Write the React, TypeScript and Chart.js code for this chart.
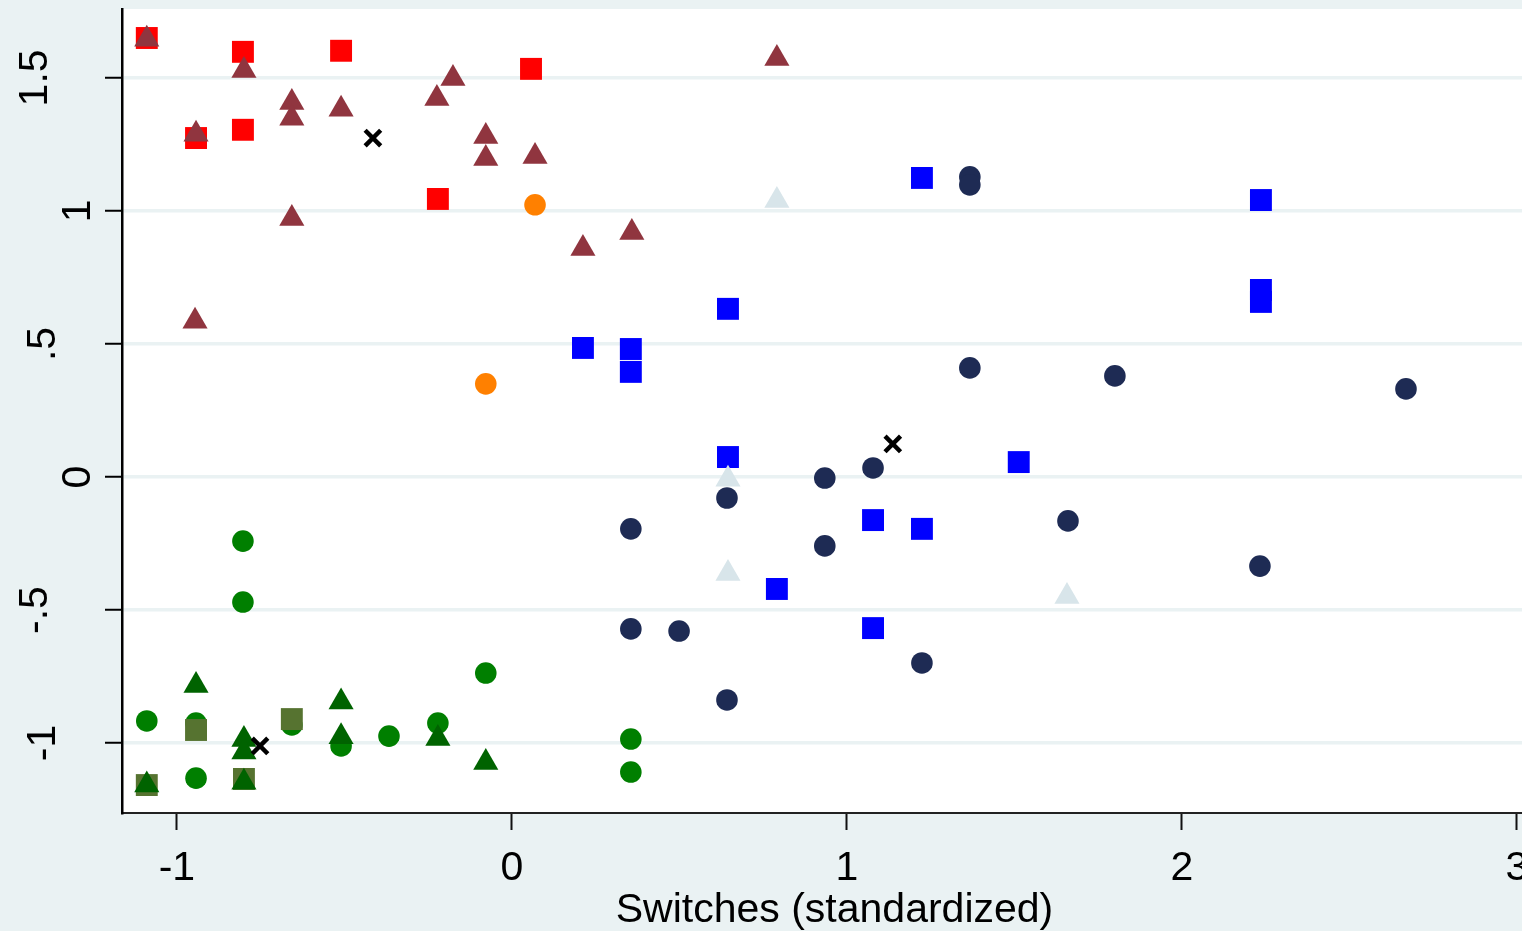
import React, { useEffect, useRef } from "react";
import { Chart, registerables } from "chart.js";

Chart.register(...registerables);

// ---- axis ticks / labels ----
const xTicks = [-1, 0, 1, 2, 3];
const xTickLabels = ["-1", "0", "1", "2", "3"];
const yTicks = [-1, -0.5, 0, 0.5, 1, 1.5];
const yTickLabels = ["-1", "-.5", "0", ".5", "1", "1.5"];
const xTitle = "Switches (standardized)";

// ---- series ----
const redSquareX = [-1.09, -0.943, -0.803, -0.803, -0.51, -0.221, 0.057];
const redSquareY = [1.65, 1.274, 1.598, 1.305, 1.602, 1.045, 1.534];

const maroonTriX = [-1.09, -0.943, -0.8, -0.657, -0.657, -0.51, -0.224, -0.176, -0.078, -0.078, 0.069, 0.791, -0.657, -0.946, 0.212, 0.358];
const maroonTriY = [1.645, 1.288, 1.528, 1.408, 1.348, 1.382, 1.423, 1.498, 1.28, 1.197, 1.205, 1.573, 0.972, 0.585, 0.859, 0.919];

const blueSquareX = [1.224, 2.236, 2.236, 2.236, 0.645, 0.212, 0.355, 0.355, 0.645, 1.513, 1.078, 1.224, 0.791, 1.078];
const blueSquareY = [1.124, 1.041, 0.703, 0.658, 0.632, 0.485, 0.481, 0.395, 0.075, 0.056, -0.162, -0.195, -0.421, -0.568];

const navyCircleX = [1.367, 1.367, 1.367, 1.8, 2.669, 0.934, 1.078, 0.642, 0.355, 0.934, 1.66, 2.233, 0.355, 0.499, 1.224, 0.642];
const navyCircleY = [1.128, 1.098, 0.41, 0.38, 0.331, -0.004, 0.034, -0.079, -0.195, -0.259, -0.165, -0.335, -0.571, -0.579, -0.699, -0.838];

const orangeCircleX = [-0.078, 0.069];
const orangeCircleY = [0.35, 1.023];

const lightTriX = [0.791, 0.645, 0.645, 1.657];
const lightTriY = [1.039, -0.009, -0.363, -0.449];

const blackCrossX = [-0.415, 1.137, -0.752];
const blackCrossY = [1.274, 0.124, -1.011];

const greenCircleX = [-1.09, -0.943, -0.657, -0.51, -0.367, -0.221, -0.078, 0.355, 0.355, -0.943, -0.803, -0.803];
const greenCircleY = [-0.917, -0.925, -0.932, -1.011, -0.974, -0.925, -0.737, -0.985, -1.109, -1.132, -0.241, -0.47];

const dkGreenTriX = [-0.943, -0.8, -0.8, -0.51, -0.51, -0.221, -0.078, -1.09, -0.8];
const dkGreenTriY = [-0.784, -0.987, -1.034, -0.846, -0.976, -0.983, -1.073, -1.158, -1.147];

const oliveSquareX = [-0.943, -0.657, -1.09, -0.8];
const oliveSquareY = [-0.951, -0.91, -1.158, -1.135];

const zip = (xs: number[], ys: number[]) => xs.map((x, i) => ({ x, y: ys[i] }));

const BG = "#EAF2F3";
const FONT = "41px 'Liberation Sans', Arial, Helvetica, sans-serif";

// baseline x of rotated y labels (Stata places them depending on label length)
const yLabelBaseline: Record<number, number> = { 1: 90, 2: 55, 3: 47 };

const bgPlugin = {
  id: "bgPlugin",
  beforeDraw(chart: any) {
    const { ctx, chartArea, width, height } = chart;
    ctx.save();
    ctx.fillStyle = BG;
    ctx.fillRect(0, 0, width, height);
    ctx.fillStyle = "#FFFFFF";
    ctx.fillRect(chartArea.left, chartArea.top, chartArea.right - chartArea.left, chartArea.bottom - chartArea.top);
    ctx.restore();
  },
};

const textPlugin = {
  id: "textPlugin",
  afterDraw(chart: any) {
    const { ctx, chartArea } = chart;
    const xs = chart.scales.x;
    const ys = chart.scales.y;
    ctx.save();
    ctx.fillStyle = "#000";
    ctx.font = FONT;
    yTicks.forEach((v, i) => {
      const label = yTickLabels[i];
      const py = ys.getPixelForValue(v);
      const bx = yLabelBaseline[label.length] ?? 47;
      ctx.save();
      ctx.translate(bx, py);
      ctx.rotate(-Math.PI / 2);
      ctx.textAlign = "center";
      ctx.textBaseline = "alphabetic";
      ctx.fillText(label, 0, 0);
      ctx.restore();
    });
    ctx.textAlign = "center";
    ctx.textBaseline = "alphabetic";
    xTicks.forEach((v, i) => {
      const px = xs.getPixelForValue(v);
      ctx.fillText(xTickLabels[i], px, chartArea.bottom + 67);
    });
    ctx.fillText(xTitle, (chartArea.left + chartArea.right) / 2, chartArea.bottom + 109);
    ctx.restore();
  },
};

export default function App() {
  const ref = useRef<HTMLCanvasElement | null>(null);

  useEffect(() => {
    document.body.style.margin = "0";
    document.body.style.overflow = "hidden";
    const canvas = ref.current;
    if (!canvas) return;

    const mk = (label: string, xs: number[], ys: number[], style: any, color: string, radius: number, extra: any = {}) => ({
      label,
      data: zip(xs, ys),
      pointStyle: style,
      pointRadius: radius,
      pointHoverRadius: radius,
      backgroundColor: color,
      pointBackgroundColor: color,
      borderColor: color,
      pointBorderColor: color,
      pointBorderWidth: 0,
      showLine: false,
      ...extra,
    });

    const datasets = [
      mk("cross", blackCrossX, blackCrossY, "crossRot", "#000000", 11, { pointBorderWidth: 4.5, borderWidth: 4.5, pointBorderColor: "#000000" }),
      mk("maroonTri", maroonTriX, maroonTriY, "triangle", "#90353F", 14.5),
      mk("lightTri", lightTriX, lightTriY, "triangle", "#D8E5EA", 14.5),
      mk("dkGreenTri", dkGreenTriX, dkGreenTriY, "triangle", "#006300", 14.5),
      mk("redSq", redSquareX, redSquareY, "rect", "#FF0000", 15.5),
      mk("blueSq", blueSquareX, blueSquareY, "rect", "#0000FF", 15.5),
      mk("oliveSq", oliveSquareX, oliveSquareY, "rect", "#567330", 15.5),
      mk("navyCirc", navyCircleX, navyCircleY, "circle", "#1E2B54", 10.8),
      mk("greenCirc", greenCircleX, greenCircleY, "circle", "#007F00", 10.8),
      mk("orangeCirc", orangeCircleX, orangeCircleY, "circle", "#FF8000", 10.8),
    ];

    const chart = new Chart(canvas, {
      type: "scatter",
      data: { datasets },
      options: {
        animation: false,
        responsive: false,
        maintainAspectRatio: false,
        events: [],
        layout: { autoPadding: false, padding: { top: 9, left: 0, right: 0, bottom: 0 } },
        plugins: { legend: { display: false }, tooltip: { enabled: false }, title: { display: false } },
        scales: {
          x: {
            type: "linear",
            min: -1.164,
            max: 3.09,
            afterBuildTicks: (s: any) => {
              s.ticks = xTicks.map((v) => ({ value: v }));
            },
            afterFit: (s: any) => {
              s.height = 118;
            },
            ticks: { display: false },
            grid: { display: true, drawOnChartArea: false, drawTicks: true, tickLength: 17, tickWidth: 2, tickColor: "#111" },
            border: { display: true, color: "#222", width: 2 },
          },
          y: {
            type: "linear",
            min: -1.263,
            max: 1.759,
            afterBuildTicks: (s: any) => {
              s.ticks = yTicks.map((v) => ({ value: v }));
            },
            afterFit: (s: any) => {
              s.width = 122;
            },
            ticks: { display: false },
            grid: { display: true, color: BG, lineWidth: 3.5, drawTicks: true, tickLength: 17, tickWidth: 2, tickColor: "#000" },
            border: { display: true, color: "#000", width: 2.5 },
          },
        },
      },
      plugins: [bgPlugin, textPlugin],
    } as any);

    return () => chart.destroy();
  }, []);

  return (
    <div style={{ position: "fixed", left: 0, top: 0, width: 1522, height: 931, overflow: "hidden", background: BG }}>
      <canvas ref={ref} width={1547} height={931} style={{ display: "block", width: 1547, height: 931 }} />
    </div>
  );
}
